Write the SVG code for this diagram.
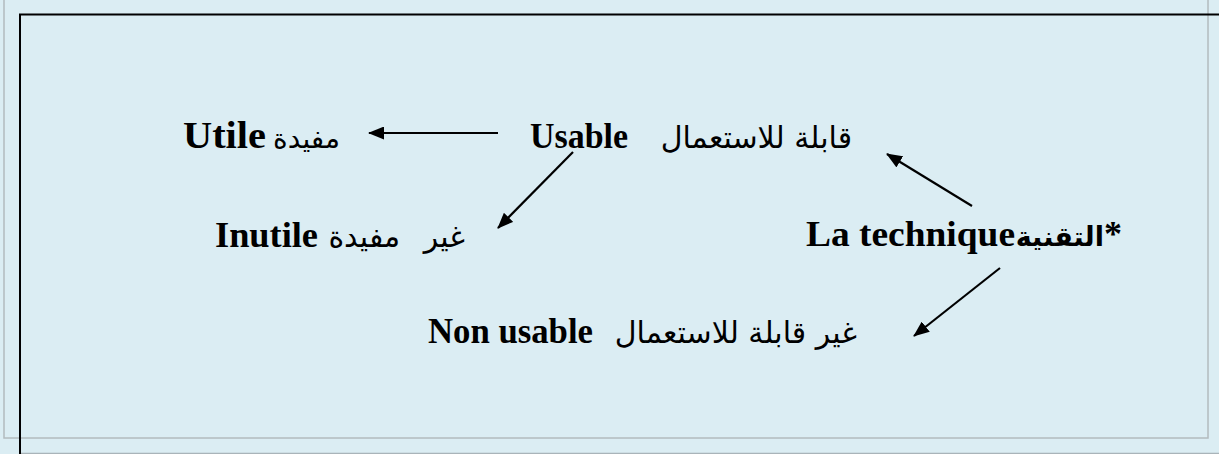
<svg xmlns="http://www.w3.org/2000/svg" width="1219" height="454" viewBox="0 0 1219 454">
  <defs>
    <marker id="arr" markerWidth="16" markerHeight="13" refX="15" refY="6.5" orient="auto" markerUnits="userSpaceOnUse">
      <path d="M0,0 L16,6.5 L0,13 Z" fill="#000"/>
    </marker>
    <style>
      .lat { font-family: "Liberation Serif", "Times New Roman", serif; font-weight: bold; font-size: 36px; fill: #000; }
      .ar { font-family: "DejaVu Sans", "Noto Sans", sans-serif; font-size: 30px; fill: #000; }
      .arb { font-family: "DejaVu Sans", "Noto Sans", sans-serif; font-size: 27px; font-weight: bold; fill: #000; }
      .conn { stroke: #000; stroke-width: 2.2; fill: none; marker-end: url(#arr); }
    </style>
  </defs>
  <rect x="0" y="0" width="1219" height="454" fill="#DBEDF3"/>
  <rect x="4" y="-3" width="1204" height="441" fill="none" stroke="#B3BBBE" stroke-width="1.5"/>
  <line x1="20" y1="453.5" x2="1219" y2="453.5" stroke="#A9B4B9" stroke-width="1.5"/>
  <path d="M20,454 L20,14.5 L1219,14.5" fill="none" stroke="#000" stroke-width="2"/>

  <g id="connectors">
    <line class="conn" x1="498" y1="133" x2="369" y2="133"/>
    <line class="conn" x1="573" y1="152" x2="498" y2="228"/>
    <line class="conn" x1="972" y1="206" x2="887" y2="154"/>
    <line class="conn" x1="1000" y1="268" x2="914" y2="336"/>
  </g>

  <g id="node-usable">
    <text class="lat" x="530" y="148" textLength="98" lengthAdjust="spacingAndGlyphs">Usable</text>
    <text class="ar" x="852" y="148" text-anchor="end">قابلة للاستعمال</text>
  </g>
  <g id="node-utile">
    <text class="lat" x="183" y="148" style="font-size:38px" textLength="83" lengthAdjust="spacingAndGlyphs">Utile</text>
    <text class="ar" x="340" y="148" text-anchor="end" style="font-size:28px">مفيدة</text>
  </g>
  <g id="node-inutile">
    <text class="lat" x="215" y="247" textLength="103" lengthAdjust="spacingAndGlyphs">Inutile</text>
    <text class="ar" x="465" y="247" text-anchor="end" style="word-spacing:14px">غير مفيدة</text>
  </g>
  <g id="node-technique">
    <text class="lat" x="806" y="246" textLength="209" lengthAdjust="spacingAndGlyphs">La technique</text>
    <text class="arb" x="1104" y="246" text-anchor="end">التقنية</text>
    <text class="lat" x="1104" y="246">*</text>
  </g>
  <g id="node-nonusable">
    <text class="lat" x="428" y="343" textLength="165" lengthAdjust="spacingAndGlyphs">Non usable</text>
    <text class="ar" x="857" y="343" text-anchor="end">غير قابلة للاستعمال</text>
  </g>
</svg>
